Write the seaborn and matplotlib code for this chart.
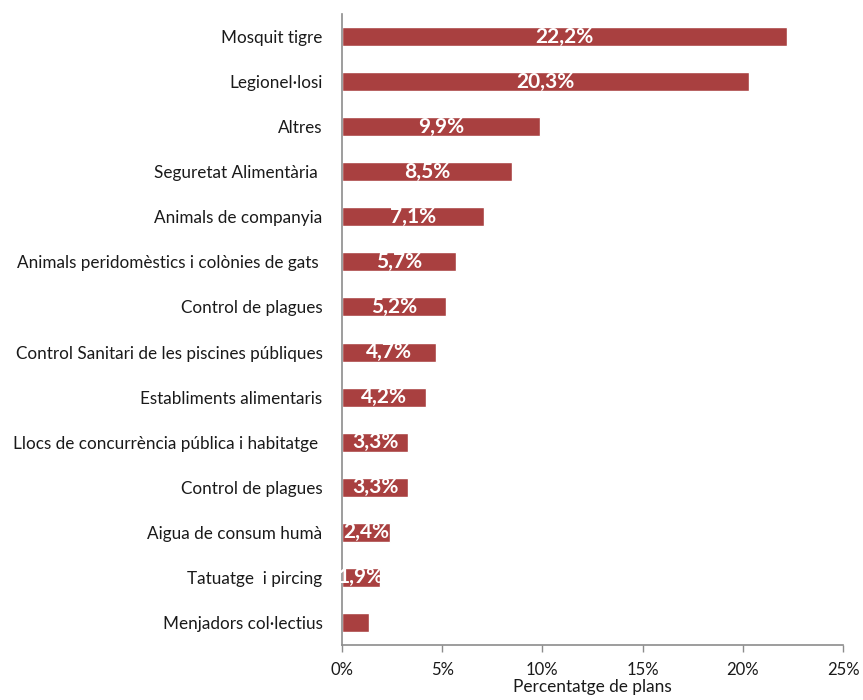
import matplotlib
matplotlib.use("Agg")
import matplotlib.pyplot as plt
import seaborn as sns
import pandas as pd
from matplotlib.ticker import FuncFormatter

categories = [
    "Mosquit tigre",
    "Legionel·losi",
    "Altres",
    "Seguretat Alimentària ",
    "Animals de companyia",
    "Animals peridomèstics i colònies de gats ",
    "Control de plagues",
    "Control Sanitari de les piscines públiques",
    "Establiments alimentaris",
    "Llocs de concurrència pública i habitatge ",
    "Control de plagues",
    "Aigua de consum humà",
    "Tatuatge  i pircing",
    "Menjadors col·lectius",
]
values = [22.2, 20.3, 9.9, 8.5, 7.1, 5.7, 5.2, 4.7, 4.2, 3.3, 3.3, 2.4, 1.9, 1.35]
value_labels = ["22,2%", "20,3%", "9,9%", "8,5%", "7,1%", "5,7%", "5,2%", "4,7%",
                "4,2%", "3,3%", "3,3%", "2,4%", "1,9%", ""]
x_ticks = [0, 5, 10, 15, 20, 25]

sns.set_theme(style="white")
plt.rcParams["font.family"] = ["Lato", "DejaVu Sans"]

df = pd.DataFrame({"pos": list(range(len(values))), "value": values})

fig = plt.figure(figsize=(8.63, 7.0), dpi=100)
ax = fig.add_axes([342 / 863, 55 / 700, 501 / 863, 631 / 700])

sns.barplot(data=df, x="value", y="pos", orient="h", color="#A94040",
            saturation=1, width=0.42, ax=ax)

ax.bar_label(ax.containers[0], labels=value_labels, label_type="center",
             color="white", fontsize=15, fontweight="bold")

ax.set_xlim(0, 25)
ax.set_ylim(len(values) - 0.5, -0.5)
ax.set_xticks(x_ticks)
ax.xaxis.set_major_formatter(FuncFormatter(lambda v, p: f"{v:.0f}%"))
ax.set_yticks(range(len(categories)))
ax.set_yticklabels(categories)
ax.tick_params(axis="y", length=0, pad=14, labelsize=12.3, labelcolor="#1a1a1a")
ax.tick_params(axis="x", direction="out", length=5, width=1, color="#8c8c8c",
               pad=7, labelsize=12, labelcolor="#1a1a1a", bottom=True)
ax.set_xlabel("Percentatge de plans", fontsize=12.4, color="#1a1a1a", labelpad=1)
ax.set_ylabel("")

for side in ["top", "right"]:
    ax.spines[side].set_visible(False)
for side in ["left", "bottom"]:
    ax.spines[side].set_color("#8c8c8c")
    ax.spines[side].set_linewidth(1.2)

fig.savefig("out.png", dpi=100)
